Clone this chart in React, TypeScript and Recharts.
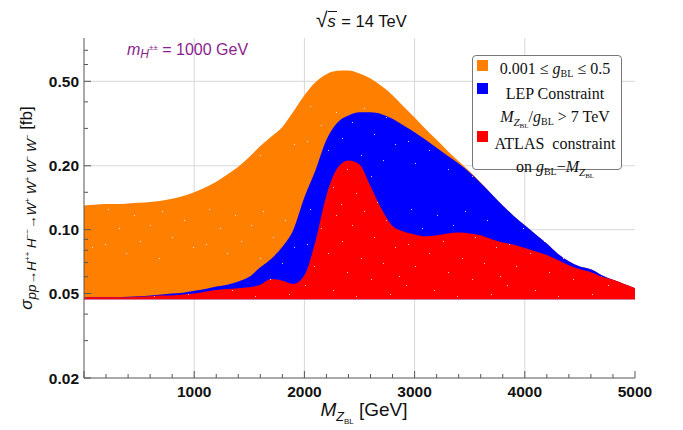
import React from "react";
import { ComposedChart, Area, XAxis, YAxis, CartesianGrid } from "recharts";

// Z_BL mass grid (GeV)
const massZ = [
  0, 100, 200, 300, 400, 500, 600, 700, 800, 900,
  1000, 1100, 1200, 1300, 1400, 1500, 1600, 1700, 1800, 1900,
  2000, 2100, 2200, 2300, 2400, 2500, 2600, 2700, 2800, 2900,
  3000, 3100, 3200, 3300, 3400, 3500, 3600, 3700, 3800, 3900,
  4000, 4100, 4200, 4300, 4400, 4500, 4600, 4700, 4800, 4900, 5000,
];

// upper edge of the scanned cross section, 0.001 <= g_BL <= 0.5 (fb)
const sigmaAll = [
  0.130, 0.131, 0.132, 0.132, 0.133, 0.134, 0.135, 0.137, 0.140, 0.144,
  0.150, 0.158, 0.168, 0.182, 0.198, 0.220, 0.248, 0.275, 0.305, 0.360,
  0.430, 0.495, 0.540, 0.560, 0.563, 0.545, 0.515, 0.475, 0.430, 0.380,
  0.338, 0.298, 0.265, 0.235, 0.210, 0.188, 0.167, 0.147, 0.130, 0.116,
  0.105, 0.095, 0.086, 0.077, 0.071, 0.067, 0.065, 0.061, 0.058, 0.0555, 0.053,
];

// upper edge after the LEP bound M_Z/g > 7 TeV
const sigmaLep = [
  0.0478, 0.048, 0.048, 0.048, 0.0483, 0.0485, 0.049, 0.0495, 0.050, 0.0505,
  0.0515, 0.0525, 0.054, 0.055, 0.057, 0.060, 0.0665, 0.073, 0.083, 0.100,
  0.142, 0.190, 0.265, 0.320, 0.345, 0.357, 0.357, 0.350, 0.333, 0.310,
  0.288, 0.265, 0.243, 0.223, 0.205, 0.186, 0.166, 0.147, 0.130, 0.116,
  0.105, 0.095, 0.086, 0.077, 0.071, 0.067, 0.065, 0.061, 0.058, 0.0555, 0.053,
];

// upper edge after the ATLAS g_BL - M_Z bound
const sigmaAtlas = [
  0.0478, 0.048, 0.048, 0.048, 0.048, 0.0483, 0.0486, 0.049, 0.049, 0.0495,
  0.050, 0.051, 0.052, 0.0525, 0.053, 0.0535, 0.055, 0.0585, 0.0575, 0.0555,
  0.061, 0.088, 0.145, 0.195, 0.212, 0.203, 0.160, 0.125, 0.104, 0.098,
  0.095, 0.093, 0.094, 0.096, 0.097, 0.096, 0.094, 0.090, 0.087, 0.085,
  0.082, 0.079, 0.076, 0.072, 0.068, 0.065, 0.063, 0.060, 0.058, 0.0555, 0.053,
];

// lower edge shared by all three scans
const sigmaFloor = 0.047;

const xTicks = [
  0, 200, 400, 600, 800, 1000, 1200, 1400, 1600, 1800, 2000, 2200, 2400,
  2600, 2800, 3000, 3200, 3400, 3600, 3800, 4000, 4200, 4400, 4600, 4800, 5000,
];
const xMajor = [1000, 2000, 3000, 4000, 5000];
const yTicks = [
  0.02, 0.03, 0.04, 0.05, 0.06, 0.07, 0.08, 0.09, 0.1, 0.15, 0.2, 0.3, 0.4, 0.5, 0.6, 0.7,
];
const yMajor = [0.02, 0.05, 0.1, 0.2, 0.5];
const yLabels = ["0.02", "0.05", "0.10", "0.20", "0.50"];

const data = massZ.map((m, i) => ({
  m,
  all: [sigmaFloor, sigmaAll[i]],
  lep: [sigmaFloor, sigmaLep[i]],
  atlas: [sigmaFloor, sigmaAtlas[i]],
}));

const AXIS = "#555";
const TICK_FONT = { fontFamily: "'Liberation Sans', Arial, sans-serif", fontWeight: 700, fontSize: 15.5, fill: "#111" };

const LeftTick = (props: any) => {
  const { x, y, payload } = props;
  const k = yMajor.indexOf(payload.value);
  return (
    <g>
      <line x1={x} x2={x + (k >= 0 ? 7 : 4)} y1={y} y2={y} stroke={AXIS} />
      {k >= 0 && (
        <text x={x - 5} y={y} dy="0.36em" textAnchor="end" {...TICK_FONT}>
          {yLabels[k]}
        </text>
      )}
    </g>
  );
};

const RightTick = (props: any) => {
  const { x, y, payload } = props;
  const major = yMajor.includes(payload.value);
  return <line x1={x} x2={x - (major ? 7 : 4)} y1={y} y2={y} stroke={AXIS} />;
};

const BottomTick = (props: any) => {
  const { x, y, payload } = props;
  const major = xMajor.includes(payload.value) || payload.value === 0;
  return (
    <g>
      <line x1={x} x2={x} y1={y} y2={y - (major ? 7 : 4)} stroke={AXIS} />
      {xMajor.includes(payload.value) && (
        <text x={x} y={y + 19} textAnchor="middle" {...TICK_FONT}>
          {payload.value}
        </text>
      )}
    </g>
  );
};

const TopTick = (props: any) => {
  const { x, y, payload } = props;
  const major = xMajor.includes(payload.value) || payload.value === 0;
  return <line x1={x} x2={x} y1={y} y2={y + (major ? 7 : 4)} stroke={AXIS} />;
};

// scattered white points left between the scan samples
const specks: [number, number][] = [
  [7, 3], [61, 5], [33, 9], [83, 14], [18, 22], [49, 19], [71, 31], [4, 38],
  [39, 35], [92, 41], [25, 47], [58, 52], [11, 60], [80, 57], [44, 66], [68, 73],
  [2, 79], [30, 84], [87, 88], [53, 90], [15, 95], [74, 99], [38, 101], [96, 70],
];

const Speckle = ({ id, color, count }: { id: string; color: string; count: number }) => (
  <pattern id={id} width={101} height={103} patternUnits="userSpaceOnUse">
    <rect width={101} height={103} fill={color} />
    {specks.slice(0, count).map(([sx, sy], i) => (
      <rect key={i} x={sx} y={sy} width={1} height={1} fill="#fff" opacity={0.8} />
    ))}
  </pattern>
);

const legendRows = [
  { color: "#ff8000", top: 59 },
  { color: "#0000ff", top: 82 },
  { color: "#ff0000", top: 130 },
];

const serif = "'Liberation Serif', 'Times New Roman', serif";
const sans = "'Liberation Sans', Arial, sans-serif";

const Sub = ({ children, size = 10, drop = 4 }: { children: React.ReactNode; size?: number; drop?: number }) => (
  <span style={{ fontSize: size, position: "relative", top: drop, fontStyle: "normal" }}>{children}</span>
);

const Sup = ({ children }: { children: React.ReactNode }) => (
  <span style={{ fontSize: 8, position: "relative", top: -6 }}>{children}</span>
);

export default function App() {
  return (
    <div style={{ position: "absolute", left: 0, top: 0, width: 683, height: 430, background: "#fff" }}>
      <ComposedChart
        width={683}
        height={430}
        data={data}
        margin={{ top: 38, right: 48, bottom: 22, left: 8 }}
      >
        <defs>
          <Speckle id="spOrange" color="#ff8000" count={12} />
          <Speckle id="spBlue" color="#0000ff" count={16} />
          <Speckle id="spRed" color="#ff0000" count={24} />
        </defs>
        <CartesianGrid
          stroke="#d8d8d8"
          verticalValues={[1000, 2000, 3000, 4000]}
          horizontalValues={[0.05, 0.1, 0.2, 0.5]}
        />
        <XAxis
          dataKey="m"
          type="number"
          domain={[0, 5000]}
          ticks={xTicks}
          interval={0}
          tickSize={0}
          tickMargin={0}
          tick={BottomTick}
          height={30}
          stroke={AXIS}
          allowDataOverflow
        />
        <XAxis
          xAxisId="top"
          orientation="top"
          dataKey="m"
          type="number"
          domain={[0, 5000]}
          ticks={xTicks}
          interval={0}
          tickSize={0}
          tickMargin={0}
          tick={TopTick}
          height={0}
          stroke={AXIS}
          allowDataOverflow
        />
        <YAxis
          type="number"
          scale="log"
          domain={[0.02, 0.8]}
          ticks={yTicks}
          interval={0}
          tickSize={0}
          tickMargin={0}
          tick={LeftTick}
          width={76}
          stroke={AXIS}
          allowDataOverflow
        />
        <YAxis
          yAxisId="right"
          orientation="right"
          type="number"
          scale="log"
          domain={[0.02, 0.8]}
          ticks={yTicks}
          interval={0}
          tickSize={0}
          tickMargin={0}
          tick={RightTick}
          width={0}
          stroke={AXIS}
          allowDataOverflow
        />
        <Area type="monotone" dataKey="all" stroke="none" fill="url(#spOrange)" fillOpacity={1} isAnimationActive={false} />
        <Area type="monotone" dataKey="lep" stroke="none" fill="url(#spBlue)" fillOpacity={1} isAnimationActive={false} />
        <Area type="monotone" dataKey="atlas" stroke="none" fill="url(#spRed)" fillOpacity={1} isAnimationActive={false} />
      </ComposedChart>

      {/* title */}
      <div style={{ position: "absolute", left: 316, top: 8, fontFamily: sans, fontSize: 16.5, color: "#111", whiteSpace: "nowrap" }}>
        <span style={{ fontSize: 21 }}>√</span>
        <span style={{ fontStyle: "italic", borderTop: "1px solid #111", paddingRight: 1 }}>s</span> = 14 TeV
      </div>

      {/* mass annotation */}
      <div style={{ position: "absolute", left: 127, top: 41, fontFamily: sans, fontSize: 16, color: "#8b1e8b", whiteSpace: "nowrap" }}>
        <i>m</i>
        <Sub size={12} drop={3}>
          <i>H</i>
          <span style={{ fontSize: 8, position: "relative", top: -8 }}>±±</span>
        </Sub>{" "}
        = 1000 GeV
      </div>

      {/* y label */}
      <div
        style={{
          position: "absolute",
          left: 27,
          top: 208,
          transform: "translate(-50%, -50%) rotate(-90deg)",
          fontFamily: sans,
          fontSize: 17,
          color: "#111",
          whiteSpace: "nowrap",
        }}
      >
        <i>σ</i>
        <span style={{ fontSize: 13.5, position: "relative", top: 4, fontStyle: "italic" }}>
          pp→H<Sup>++</Sup> H<Sup>−−</Sup>→W<Sup>+</Sup> W<Sup>+</Sup> W<Sup>−</Sup> W<Sup>−</Sup>
        </span>{" "}
        [fb]
      </div>

      {/* x label */}
      <div style={{ position: "absolute", left: 364, top: 399, transform: "translateX(-50%)", fontFamily: sans, fontSize: 19, color: "#111", whiteSpace: "nowrap" }}>
        <i>M</i>
        <Sub size={12.5} drop={5}>
          <i>Z</i>
          <span style={{ fontSize: 8, position: "relative", top: 3 }}>BL</span>
        </Sub>{" "}
        [GeV]
      </div>

      {/* legend */}
      <div
        style={{
          position: "absolute",
          left: 472,
          top: 55,
          width: 148,
          height: 113,
          border: "1px solid #777",
          borderRadius: 4,
          background: "#fff",
          fontFamily: serif,
          fontSize: 16,
          color: "#111",
        }}
      >
        {legendRows.map((r) => (
          <div key={r.color} style={{ position: "absolute", left: 4, top: r.top - 55, width: 11, height: 11, background: r.color }} />
        ))}
        <div style={{ position: "absolute", left: 0, width: 164, top: 1, textAlign: "center", lineHeight: "23px", whiteSpace: "nowrap" }}>
          <div>
            0.001 ≤ <i>g</i>
            <Sub size={10} drop={3}>BL</Sub> ≤ 0.5
          </div>
          <div>LEP Constraint</div>
          <div>
            <i>M</i>
            <Sub size={11} drop={4}>
              <i>Z</i>
              <span style={{ fontSize: 7, position: "relative", top: 2 }}>BL</span>
            </Sub>
            /<i>g</i>
            <Sub size={10} drop={3}>BL</Sub> &gt; 7 TeV
          </div>
          <div>ATLAS&nbsp; constraint</div>
          <div>
            on <i>g</i>
            <Sub size={10} drop={3}>BL</Sub>−<i>M</i>
            <Sub size={11} drop={4}>
              <i>Z</i>
              <span style={{ fontSize: 7, position: "relative", top: 2 }}>BL</span>
            </Sub>
          </div>
        </div>
      </div>
    </div>
  );
}
